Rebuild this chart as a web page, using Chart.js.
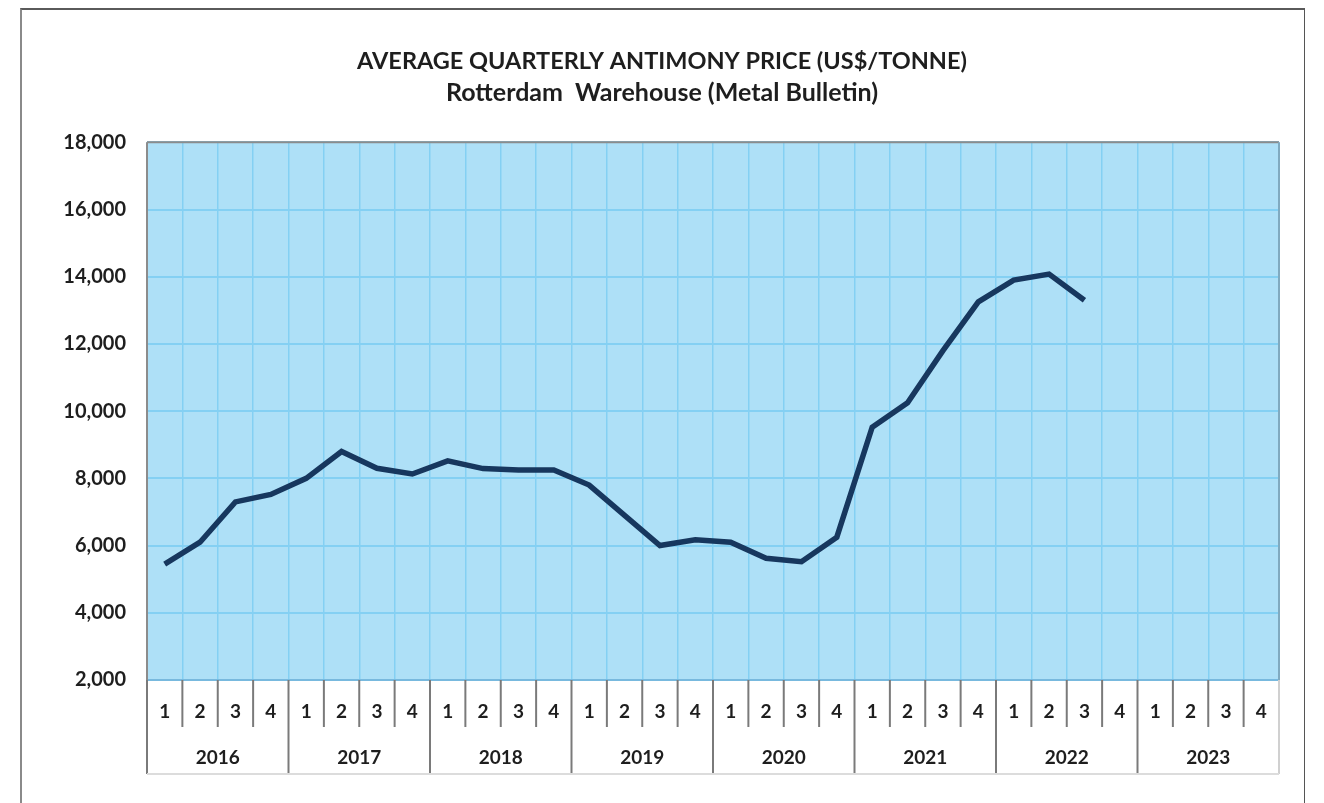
<!DOCTYPE html>
<html>
<head>
<meta charset="utf-8">
<script src="https://cdn.jsdelivr.net/npm/chart.js@4/dist/chart.umd.min.js"></script>
<style>
  html, body { margin: 0; padding: 0; background: #ffffff; overflow: hidden; }
  #frame { position: absolute; left: 20px; top: 8px; width: 1285px; height: 900px;
           border-left: 2px solid #8a8a8a; border-top: 2px solid #5a5a5a; border-right: 1px solid #555; box-sizing: border-box; }
  #wrap { position: absolute; left: 0; top: 0; width: 1324px; height: 803px; }
</style>
</head>
<body>
<div id="frame"></div>
<div id="wrap"><canvas id="c"></canvas></div>
<script>
// ---- data ----
const titleText = 'AVERAGE QUARTERLY ANTIMONY PRICE (US$/TONNE)';
const subtitleText = 'Rotterdam  Warehouse (Metal Bulletin)';
const years = ['2016', '2017', '2018', '2019', '2020', '2021', '2022', '2023'];
const quarterNames = ['1', '2', '3', '4'];
const quarters = years.flatMap(() => quarterNames);
const prices = [
  5450, 6100, 7300, 7520,   // 2016
  8000, 8800, 8300, 8130,   // 2017
  8520, 8290, 8250, 8250,   // 2018
  7800, 6900, 6000, 6170,   // 2019
  6100, 5620, 5520, 6250,   // 2020
  9520, 10250, 11800, 13250, // 2021
  13900, 14080, 13300, null, // 2022
  null, null, null, null     // 2023
];
const yMin = 2000, yMax = 18000, yStep = 2000;

// ---- styles ----
const FONT = 'Lato, "Open Sans", "Noto Sans", sans-serif';
const plotBg = 'rgb(174,224,247)';
const gridBlue = 'rgb(132,208,243)';
const lineColor = '#17375e';
const textColor = '#1e1e1e';

const tablePlugin = {
  id: 'tablePlugin',
  beforeDraw(chart) {
    const a = chart.chartArea, ctx = chart.ctx;
    ctx.save();
    ctx.fillStyle = plotBg;
    ctx.fillRect(a.left, a.top, a.right - a.left, a.bottom - a.top);
    ctx.restore();
  },
  afterDraw(chart) {
    const a = chart.chartArea, ctx = chart.ctx;
    const xs = chart.scales.x, x2 = chart.scales.x2;
    ctx.save();
    ctx.lineWidth = 2;
    ctx.strokeStyle = '#8c8c8c';
    ctx.beginPath();
    ctx.moveTo(a.left, a.top); ctx.lineTo(a.right, a.top);
    ctx.stroke();
    ctx.strokeStyle = 'rgb(128,170,192)';
    ctx.beginPath();
    ctx.moveTo(a.right, a.top); ctx.lineTo(a.right, a.bottom);
    ctx.stroke();
    const n = quarters.length;
    for (let i = 0; i <= n; i++) {
      const px = xs.getPixelForValue(i - 0.5);
      const isYear = i % 4 === 0;
      const yEnd = isYear ? x2.bottom : xs.bottom;
      ctx.strokeStyle = (i === n) ? '#d0d0d0' : '#7a7a7a';
      ctx.lineWidth = 2;
      ctx.beginPath();
      ctx.moveTo(px, a.bottom);
      ctx.lineTo(px, yEnd);
      ctx.stroke();
    }
    ctx.strokeStyle = '#dcdcdc';
    ctx.lineWidth = 2;
    ctx.beginPath();
    ctx.moveTo(a.left, x2.bottom); ctx.lineTo(a.right, x2.bottom);
    ctx.stroke();
    ctx.strokeStyle = '#8c8c8c';
    ctx.beginPath();
    ctx.moveTo(a.left, a.top); ctx.lineTo(a.left, a.bottom);
    ctx.stroke();
    ctx.restore();
  }
};

new Chart(document.getElementById('c'), {
  type: 'line',
  data: {
    labels: quarters,
    datasets: [{
      label: 'Price',
      data: prices,
      borderColor: lineColor,
      borderWidth: 5.5,
      pointRadius: 0,
      pointHoverRadius: 0,
      tension: 0,
      fill: false,
      spanGaps: false
    }]
  },
  plugins: [tablePlugin],
  options: {
    responsive: true,
    maintainAspectRatio: false,
    animation: false,
    layout: { padding: { left: 0, right: 0, top: 0, bottom: 29 } },
    plugins: {
      legend: { display: false },
      tooltip: { enabled: false },
      title: {
        display: true,
        text: titleText,
        color: textColor,
        font: { family: FONT, size: 23.5, weight: 'bold', lineHeight: 1.2 },
        padding: { top: 46.9, bottom: 0 }
      },
      subtitle: {
        display: true,
        text: subtitleText,
        color: textColor,
        font: { family: FONT, size: 25, weight: 'bold', lineHeight: 1.2 },
        padding: { top: 3.2, bottom: 34 }
      }
    },
    scales: {
      x: {
        type: 'category',
        position: 'bottom',
        offset: true,
        weight: 0,
        grid: { offset: true, color: gridBlue, lineWidth: 1.5, drawTicks: false },
        border: { display: true, color: 'rgb(120,185,222)', width: 2 },
        ticks: { color: textColor, font: { family: FONT, size: 19, weight: 'bold' }, padding: 20, maxRotation: 0, autoSkip: false },
        afterFit(s) { s.height = 47; }
      },
      x2: {
        type: 'category',
        position: 'bottom',
        labels: years,
        offset: true,
        weight: 1,
        grid: { display: false, drawTicks: false },
        border: { display: false },
        ticks: { color: textColor, font: { family: FONT, size: 19, weight: 'bold' }, padding: 19, maxRotation: 0, autoSkip: false },
        afterFit(s) { s.height = 47; }
      },
      y: {
        min: yMin,
        max: yMax,
        grid: { color: gridBlue, lineWidth: 2, drawTicks: false },
        border: { display: false },
        ticks: {
          stepSize: yStep,
          padding: 21,
          color: textColor,
          font: { family: FONT, size: 20, weight: 'bold' },
          callback: v => v.toLocaleString('en-US')
        },
        afterFit(s) { s.width = 147; }
      },
      yRight: {
        position: 'right',
        min: yMin,
        max: yMax,
        grid: { display: false, drawTicks: false },
        border: { display: false },
        ticks: { display: false },
        afterFit(s) { s.width = 45; }
      }
    }
  }
});
</script>
</body>
</html>
